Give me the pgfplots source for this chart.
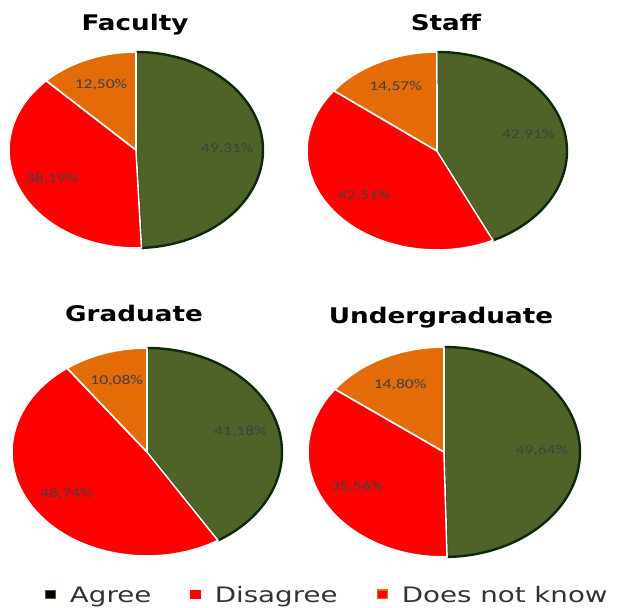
\documentclass[border=0pt]{standalone}
\usepackage{pgfplots}
\pgfplotsset{compat=1.18}
\usepackage{pgfplotstable}
\usepackage{fontspec}
\setmainfont{DejaVu Sans}
\newfontfamily\titlefont[FakeStretch=1.22]{DejaVu Sans}
\newfontfamily\legfont[FakeStretch=1.3]{DejaVu Sans}
\newfontfamily\lblfont[FakeStretch=1.3]{Carlito}

\definecolor{agreeC}{HTML}{4F6228}
\definecolor{agreeB}{HTML}{0A2A0A}
\definecolor{disC}{HTML}{FF0000}
\definecolor{dnkC}{HTML}{E36C09}
\definecolor{lblC}{HTML}{404040}
\definecolor{legC}{HTML}{333333}

\tikzset{
  sl0/.style={fill=agreeC, draw=agreeB, line width=2.4pt, line join=round},
  sl1/.style={fill=disC, draw=white, line width=1.6pt, line join=round},
  sl2/.style={fill=dnkC, draw=white, line width=1.6pt, line join=round},
}

% id: 0 Agree, 1 Disagree, 2 Does not know; start = cumulative percentage before the slice
\pgfplotstableread{
id val start
0 49.31 0
1 38.19 49.31
2 12.50 87.50
}\faculty
\pgfplotstableread{
id val start
0 42.91 0
1 42.51 42.91
2 14.57 85.42
}\staff
\pgfplotstableread{
id val start
0 41.18 0
1 48.74 41.18
2 10.08 89.92
}\graduate
\pgfplotstableread{
id val start
0 49.64 0
1 35.56 49.64
2 14.80 85.20
}\undergrad

\pgfplotsset{
  pie/.style 2 args={
    scatter, only marks, mark=*, mark size=0pt, forget plot,
    mark options={draw=none, fill=none},
    visualization depends on={\thisrow{id} \as \sid},
    visualization depends on={\thisrow{val} \as \sval},
    visualization depends on={\thisrow{start} \as \sstart},
    scatter/@pre marker code/.code={%
      \pgfscope
      \pgfmathtruncatemacro\sidi{round(\sid)}%
      \pgfmathsetmacro\aone{90-3.6*\sstart}%
      \pgfmathsetmacro\atwo{90-3.6*(\sstart+\sval)}%
      \pgfmathsetmacro\amid{(\aone+\atwo)/2}%
      \edef\slpath{\noexpand\path[sl\sidi]}%
      \slpath (0pt,0pt) -- (\aone:#1pt and #2pt) arc[start angle=\aone, end angle=\atwo, x radius=#1pt, y radius=#2pt] -- cycle;
      \node[font=\lblfont\fontsize{13.5}{15}\selectfont, text=lblC, inner sep=0pt]
        at ({0.72*#1*cos(\amid)*1pt},{0.72*#2*sin(\amid)*1pt})
        {\pgfmathprintnumber[fixed,fixed zerofill,precision=2,use comma,assume math mode=true]{\sval}\%};
    },
    scatter/@post marker code/.code={\endpgfscope},
  },
}

\begin{document}
\begin{tikzpicture}
\path[use as bounding box] (0pt,0pt) rectangle (619pt,608pt);
\begin{axis}[
  at={(0pt,0pt)}, anchor=south west,
  scale only axis, width=619pt, height=608pt,
  xmin=0, xmax=619, ymin=0, ymax=608,
  hide axis, clip=false,
  legend image code/.code={\path[#1] (0pt,-3.5pt) rectangle (10pt,5pt);},
  legend style={
    at={(45/619,13/608)}, anchor=west,
    draw=none, fill=none, inner sep=0pt, legend columns=3,
    font=\legfont\fontsize{21.3}{24}\selectfont, text=legC,
    nodes={inner sep=0pt},
    /tikz/every odd column/.append style={column sep=14pt},
    /tikz/every even column/.append style={column sep=39pt},
  },
]
\addlegendimage{fill=black, draw=agreeC, line width=0.8pt}
\addlegendimage{fill=disC, draw=disC}
\addlegendimage{fill=disC, draw=dnkC, line width=1.2pt}
\legend{Agree, Disagree, Does not know}

\addplot[pie={127}{98}]  table[x expr=136, y expr=458] {\faculty};
\addplot[pie={130}{99}]  table[x expr=437, y expr=457] {\staff};
\addplot[pie={135}{104}] table[x expr=147, y expr=156] {\graduate};
\addplot[pie={136}{105}] table[x expr=444, y expr=156] {\undergrad};

\node[font=\titlefont\bfseries\fontsize{21.5}{24}\selectfont, anchor=base] at (axis cs:135,577) {Faculty};
\node[font=\titlefont\bfseries\fontsize{21.5}{24}\selectfont, anchor=base] at (axis cs:446,577.5) {Staff};
\node[font=\titlefont\bfseries\fontsize{21.5}{24}\selectfont, anchor=base] at (axis cs:134,286) {Graduate};
\node[font=\titlefont\bfseries\fontsize{21.5}{24}\selectfont, anchor=base] at (axis cs:441,284.5) {Undergraduate};
\end{axis}
\end{tikzpicture}
\end{document}
